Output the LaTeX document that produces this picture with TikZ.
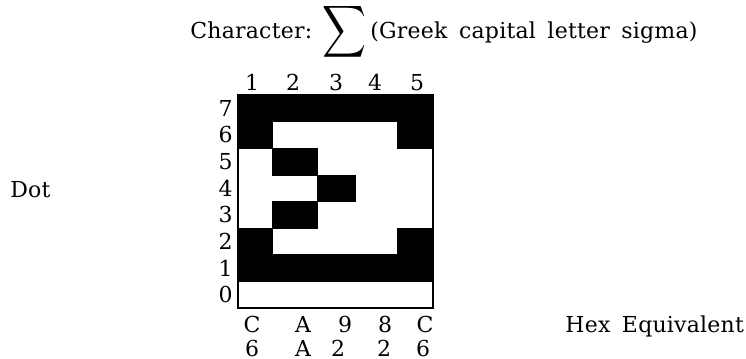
\documentclass[tikz,border=0pt]{standalone}
\usepackage{fontspec}
\setmainfont[LetterSpace=1,WordSpace=1.6]{DejaVu Serif}
\usepackage{amsmath}
\usepackage{graphicx}
\usetikzlibrary{positioning}

\tikzset{
  lbl/.style={inner sep=0pt, font=\fontsize{11}{13}\selectfont},
  dotcell/.style={fill=black, draw=black, line width=0.3pt},
}

\begin{document}
\begin{tikzpicture}[x=0.5pt,y=-0.5pt]
  \useasboundingbox (0,0) rectangle (746,359);

  % title line
  \node[lbl, anchor=base west] (title) at (190,38) {Character:};
  \node[inner sep=0pt] (sigma) at (344,32)
    {\resizebox*{22pt}{29pt}{$\displaystyle\sum$}};
  \node[lbl, anchor=base west] (name) at (370,38) {(Greek capital letter sigma)};

  % dot matrix, column edges are uneven
  \def\coledge{{238,272,317,355,397,433}}
  \foreach \c/\r in {1/7,2/7,3/7,4/7,5/7,1/6,5/6,2/5,3/4,2/3,1/2,5/2,1/1,2/1,3/1,4/1,5/1}{
    \pgfmathsetmacro\xa{\coledge[\c-1]}
    \pgfmathsetmacro\xb{\coledge[\c]}
    \pgfmathsetmacro\ya{95+(7-\r)*26.625}
    \filldraw[dotcell] (\xa,\ya) rectangle (\xb,{\ya+26.625});
  }
  \draw[line width=0.6pt] (238,95) rectangle (433,308);

  % row and column numbers
  \foreach \r in {0,...,7}
    \node[lbl, anchor=east] (row\r) at (233,{95+(7-\r)*26.625+13.3}) {\r};
  \foreach \c/\x in {1/252,2/293,3/336,4/375,5/417}
    \node[lbl, anchor=base] (col\c) at (\x,90) {\c};

  % hex digits per column
  \foreach \c/\x/\h in {1/252/C,2/303/A,3/345/9,4/385/8,5/425/C}
    \node[lbl, anchor=base] (hi\c) at (\x,332) {\h};
  \foreach \c/\x/\h in {1/252/6,2/303/A,3/338/2,4/384/2,5/423/6}
    \node[lbl, anchor=base] (lo\c) at (\x,356) {\h};

  \node[lbl, anchor=base west] (dot) at (10,197) {Dot};
  \node[lbl, anchor=base west] (hex) at (565,332) {Hex Equivalent};

\end{tikzpicture}
\end{document}
